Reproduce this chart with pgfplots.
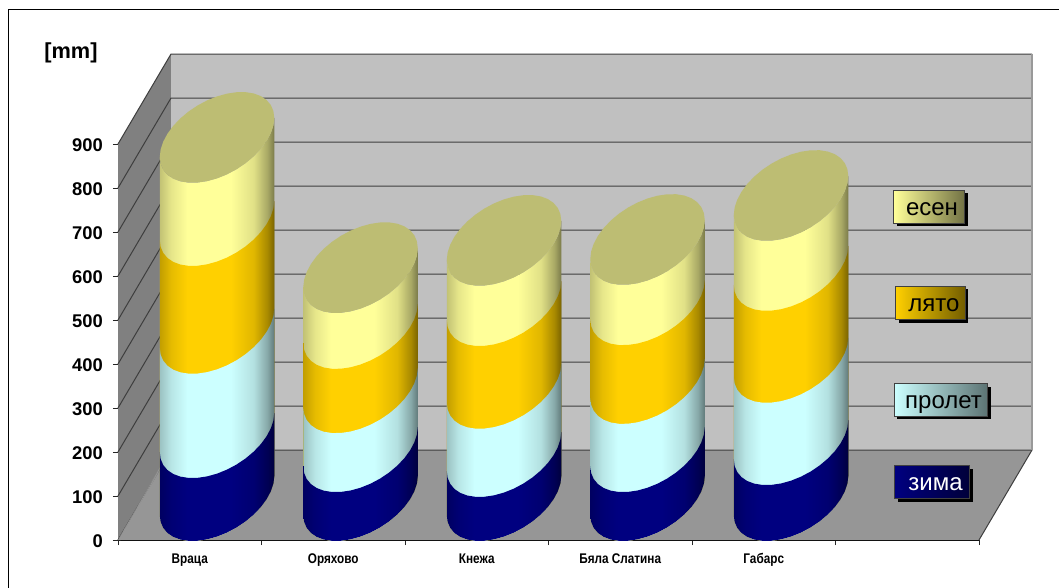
\documentclass[border=0pt]{standalone}
\usepackage{fontspec}
\setmainfont{Liberation Sans}
\newfontfamily\narrowfont[FakeStretch=0.84]{Liberation Sans}
\usepackage{pgfplots}
\usepackage{pgfplotstable}
\pgfplotsset{compat=1.18}

\definecolor{wallback}{RGB}{192,192,192}
\definecolor{wallleft}{RGB}{128,128,128}
\definecolor{wallfloor}{RGB}{150,150,150}
\definecolor{gridc}{RGB}{62,62,62}
\definecolor{cZima}{RGB}{0,0,128}
\definecolor{cProlet}{RGB}{204,255,255}
\definecolor{cLyato}{RGB}{255,208,0}
\definecolor{cEsen}{RGB}{255,255,153}
\definecolor{cCap}{RGB}{189,189,115}

% Lit-from-the-front shading across a cylinder; 25bp..75bp spans the path
\newcommand\cylshading[2]{%
  \pgfdeclarehorizontalshading{#1}{100bp}{%
    color(0bp)=(#2!76!black);
    color(25bp)=(#2!76!black);
    color(30bp)=(#2!90!black);
    color(37bp)=(#2);
    color(56bp)=(#2);
    color(66bp)=(#2!88!black);
    color(72bp)=(#2!66!black);
    color(75bp)=(#2!48!black);
    color(100bp)=(#2!48!black)}}
\cylshading{shZima}{cZima}
\cylshading{shProlet}{cProlet}
\cylshading{shLyato}{cLyato}
\cylshading{shEsen}{cEsen}

% Outline of a cylinder side: front arc of the base, then of the top (h=1)
\pgfplotstableread{
dx dy h
-0.3990 -44.30 0
-0.3929 -59.81 0
-0.3749 -73.50 0
-0.3455 -84.96 0
-0.3057 -93.85 0
-0.2565 -99.87 0
-0.1995 -102.86 0
-0.1365 -102.73 0
-0.0693 -99.47 0
0.0000 -93.20 0
0.0693 -84.09 0
0.1365 -72.43 0
0.1995 -58.56 0
0.2565 -42.91 0
0.3057 -25.97 0
0.3455 -8.24 0
0.3749 9.76 0
0.3929 27.45 0
0.3990 44.30 0
0.3990 44.30 1
0.3929 27.45 1
0.3749 9.76 1
0.3455 -8.24 1
0.3057 -25.97 1
0.2565 -42.91 1
0.1995 -58.56 1
0.1365 -72.43 1
0.0693 -84.09 1
0.0000 -93.20 1
-0.0693 -99.47 1
-0.1365 -102.73 1
-0.1995 -102.86 1
-0.2565 -99.87 1
-0.3057 -93.85 1
-0.3455 -84.96 1
-0.3749 -73.50 1
-0.3929 -59.81 1
-0.3990 -44.30 1
}\sidetmpl

% Outline of the elliptical top face
\pgfplotstableread{
dx dy
-0.3990 -44.30
-0.3929 -59.81
-0.3749 -73.50
-0.3455 -84.96
-0.3057 -93.85
-0.2565 -99.87
-0.1995 -102.86
-0.1365 -102.73
-0.0693 -99.47
0.0000 -93.20
0.0693 -84.09
0.1365 -72.43
0.1995 -58.56
0.2565 -42.91
0.3057 -25.97
0.3455 -8.24
0.3749 9.76
0.3929 27.45
0.3990 44.30
0.3929 59.81
0.3749 73.50
0.3455 84.96
0.3057 93.85
0.2565 99.87
0.1995 102.86
0.1365 102.73
0.0693 99.47
0.0000 93.20
-0.0693 84.09
-0.1365 72.43
-0.1995 58.56
-0.2565 42.91
-0.3057 25.97
-0.3455 8.24
-0.3749 -9.76
-0.3929 -27.45
}\captmpl

% One column: #1 category position, #2..#5 running totals by season (mm)
\newcommand\cylinder[5]{%
  \addplot[draw=none, shading=shEsen] table[x expr=#1+0.19+\thisrow{dx}, y expr=101+#5*\thisrow{h}+\thisrow{dy}] {\sidetmpl};
  \addplot[draw=none, shading=shLyato] table[x expr=#1+0.19+\thisrow{dx}, y expr=101+#4*\thisrow{h}+\thisrow{dy}] {\sidetmpl};
  \addplot[draw=none, shading=shProlet] table[x expr=#1+0.19+\thisrow{dx}, y expr=101+#3*\thisrow{h}+\thisrow{dy}] {\sidetmpl};
  \addplot[draw=none, shading=shZima] table[x expr=#1+0.19+\thisrow{dx}, y expr=101+#2*\thisrow{h}+\thisrow{dy}] {\sidetmpl};
  \addplot[draw=none, fill=cCap] table[x expr=#1+0.19+\thisrow{dx}, y expr=101+#5+\thisrow{dy}] {\captmpl};
}

% Season key: gradient box with a hard shadow
\newcommand\seasonbox[8]{% x0 y0 x1 y1 colour text-x,baseline text text-colour
  \fill[black] (#1+3.3,#2+3.3) rectangle (#3+3.3,#4+3.3);
  \shade[left color=#5, right color=#5!45!black, draw=black!75, line width=0.6pt] (#1,#2) rectangle (#3,#4);
  \node[text=#8, anchor=base, inner sep=0pt] at (#6) {\fontsize{18}{20}\selectfont #7};
}

\begin{document}
\begin{tikzpicture}
\begin{scope}[x=0.75pt,y=-0.75pt]
  \useasboundingbox (0,0) rectangle (1059,588);
  \fill[white] (0,0) rectangle (1059,588);
  \draw[black, line width=1pt] (8.5,588) -- (8.5,9.5) -- (1059,9.5);
  \node[anchor=center] at (71,53) {\fontsize{16.3}{18}\selectfont\bfseries [mm]};
\end{scope}

\begin{axis}[
  at={(88.5pt,-405pt)}, anchor=south west,
  scale only axis, width=645.75pt, height=297pt,
  xmin=0, xmax=6, ymin=0, ymax=900,
  clip=false,
  axis x line*=bottom, axis y line*=left,
  axis line style={-},
  x axis line style={black, line width=1.3pt},
  y axis line style={gridc, line width=0.6pt},
  xtick={0,1,...,6}, xticklabels={},
  ytick={0,100,...,900},
  tick align=outside,
  major tick length=3.9pt,
  tick style={black!85, line width=0.7pt},
  /pgf/number format/assume math mode=true,
  yticklabel style={font=\fontsize{13.8}{16}\selectfont\bfseries, xshift=-4pt, yshift=-0.6pt},
  extra x ticks={0.5,1.5,2.5,3.5,4.5},
  extra x tick labels={Враца,Оряхово,Кнежа,Бяла Слатина,Габарс},
  extra x tick style={major tick length=0pt,
    xticklabel style={font=\narrowfont\fontsize{10.5}{12}\selectfont\bfseries, yshift=-6.5pt, anchor=north}},
  every axis plot/.append style={no markers},
]
  % Walls and floor of the box, receding up and to the right
  \addplot[fill=wallback, draw=none] coordinates {(0.3693,204.5) (6.3693,204.5) (6.3693,1104.5) (0.3693,1104.5)};
  \addplot[fill=wallleft, draw=none] coordinates {(0,0) (0.3693,204.5) (0.3693,1104.5) (0,900)};
  \addplot[fill=wallfloor, draw=none] coordinates {(0,0) (6,0) (6.3693,204.5) (0.3693,204.5)};

  % Gridlines along the back wall and the side wall
  \pgfplotsinvokeforeach{0,100,...,900}{
    \addplot[gridc, line width=0.75pt] coordinates {(0,#1) (0.3693,#1+204.5) (6.3693,#1+204.5)};
  }
  \addplot[fill=wallfloor, draw=none] coordinates {(0,0) (0.02,0) (0.3693,204.5) (0.36,204.5)};
  \addplot[white!35!gridc, densely dotted, line width=0.6pt] coordinates {(0,0) (0.3693,204.5)};
  \addplot[gridc, line width=0.75pt] coordinates {(6,0) (6.3693,204.5)};
  \addplot[black!40, line width=0.9pt] coordinates {(6.3693,204.5) (6.3693,1104.5)};

  \cylinder{0.5}{143}{380}{625}{814}
  \cylinder{1.5}{111}{245}{391}{518}
  \cylinder{2.5}{100}{255}{443}{580}
  \cylinder{3.5}{111}{266}{445}{582}
  \cylinder{4.5}{127}{314}{523}{682}
\end{axis}

\begin{scope}[x=0.75pt,y=-0.75pt]
  \seasonbox{893.3}{190}{964.3}{223}{cEsen}{932,215}{есен}{black}
  \seasonbox{895.3}{286}{965}{319.3}{cLyato}{934,311}{лято}{black}
  \seasonbox{894}{383.3}{987.7}{416}{cProlet}{943.5,408}{пролет}{black}
  \seasonbox{894.7}{465.7}{969.3}{498.7}{cZima}{935.5,490}{зима}{white}
\end{scope}
\end{tikzpicture}
\end{document}
